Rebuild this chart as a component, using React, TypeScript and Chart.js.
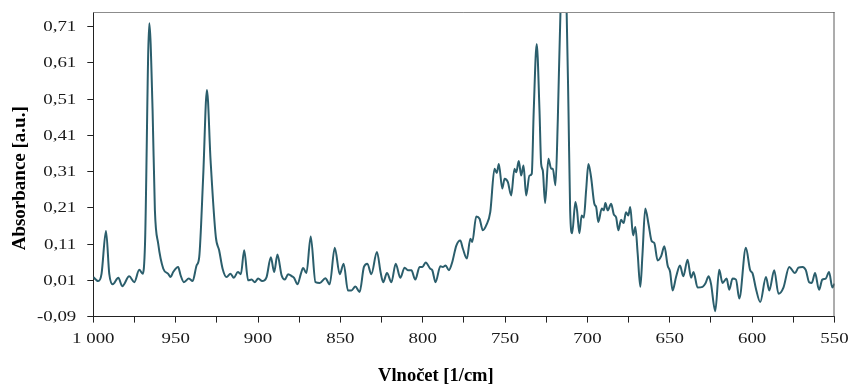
import React, { useEffect, useRef } from 'react';
import { Chart, registerables } from 'chart.js';

Chart.register(...registerables);

// Wavenumber (1/cm) of each sampled point of the spectrum
const WAVENUMBERS = [
  1000.0, 997.0, 995.0, 992.3, 990.3, 988.2, 984.8, 982.4, 978.2, 975.1,
  972.1, 970.0, 968.6, 966.0, 964.0, 962.6, 960.6, 957.5, 954.5, 953.1,
  951.5, 948.5, 947.0, 945.0, 942.0, 939.7, 937.3, 935.7, 933.3, 931.0,
  928.8, 925.6, 923.6, 921.5, 919.1, 916.7, 914.7, 912.2, 910.4, 908.4,
  906.0, 903.9, 901.9, 899.9, 897.5, 894.8, 892.2, 890.2, 888.2, 885.7,
  883.7, 881.7, 879.3, 878.1, 876.0, 874.0, 872.6, 870.6, 868.0, 865.1,
  862.5, 859.1, 856.5, 853.4, 850.4, 848.0, 845.4, 843.3, 840.9, 838.3,
  835.7, 833.6, 831.2, 827.8, 825.5, 824.0, 821.7, 819.0, 816.4, 813.6,
  811.0, 809.0, 806.9, 804.5, 801.9, 800.2, 798.2, 795.4, 794.2, 792.2,
  789.3, 787.8, 786.1, 784.1, 782.1, 779.6, 777.2, 775.6, 773.2, 771.1,
  769.9, 767.5, 765.5, 763.5, 761.4, 759.0, 756.4, 755.0, 753.8, 751.7,
  750.3, 748.3, 746.3, 744.3, 743.2, 741.7, 740.2, 738.8, 737.2, 735.2,
  733.8, 732.6, 730.8, 729.1, 728.1, 727.1, 725.7, 723.7, 722.0, 721.0,
  719.4, 718.0, 716.4, 714.5, 712.6, 711.5, 710.5, 709.3, 707.3, 706.3,
  704.9, 703.5, 702.2, 700.8, 699.4, 697.8, 695.8, 694.7, 693.4, 691.3,
  690.1, 689.1, 687.7, 685.6, 684.0, 682.6, 681.2, 679.6, 678.0, 676.6,
  675.2, 674.0, 672.3, 670.9, 669.5, 667.9, 666.6, 664.9, 662.8, 661.0,
  659.4, 657.4, 655.3, 653.3, 651.3, 649.8, 648.3, 646.2, 643.8, 641.8,
  639.2, 637.1, 635.6, 633.1, 630.1, 628.4, 626.4, 625.0, 622.4, 620.0,
  618.0, 615.5, 613.9, 611.9, 609.8, 607.8, 603.8, 601.2, 599.8, 597.7,
  595.1, 591.6, 589.6, 586.6, 584.0, 581.0, 577.5, 574.0, 571.9, 569.4,
  567.4, 565.4, 563.8, 561.8, 559.4, 557.4, 555.3, 553.3, 551.3, 550.0,
];

// Absorbance (a.u.) at each wavenumber
const ABSORBANCE = [
  0.019, 0.008, 0.028, 0.146, 0.028, -0.001, 0.017, -0.006, 0.021, 0.005,
  0.039, 0.028, 0.111, 0.719, 0.478, 0.203, 0.111, 0.042, 0.028, 0.019,
  0.033, 0.047, 0.024, 0.005, 0.015, 0.008, 0.051, 0.074, 0.295, 0.535,
  0.341, 0.129, 0.093, 0.042, 0.019, 0.028, 0.017, 0.033, 0.027, 0.093,
  0.010, 0.012, 0.005, 0.015, 0.008, 0.019, 0.074, 0.033, 0.081, 0.024,
  0.012, 0.027, 0.021, 0.017, -0.001, 0.028, 0.044, 0.030, 0.131, 0.005,
  0.003, 0.016, -0.001, 0.100, 0.027, 0.056, -0.018, -0.018, -0.007, -0.022,
  0.047, 0.056, 0.027, 0.088, 0.030, 0.005, 0.030, 0.005, 0.056, 0.017,
  0.045, 0.038, 0.038, 0.012, 0.047, 0.047, 0.059, 0.042, 0.038, 0.005,
  0.049, 0.047, 0.051, 0.038, 0.060, 0.106, 0.120, 0.097, 0.070, 0.125,
  0.116, 0.186, 0.180, 0.148, 0.162, 0.198, 0.318, 0.306, 0.331, 0.263,
  0.290, 0.281, 0.244, 0.318, 0.308, 0.339, 0.299, 0.327, 0.244, 0.299,
  0.304, 0.478, 0.662, 0.478, 0.331, 0.313, 0.223, 0.345, 0.318, 0.318,
  0.272, 0.451, 0.745, 0.860, 0.745, 0.478, 0.203, 0.140, 0.226, 0.203,
  0.140, 0.189, 0.183, 0.258, 0.331, 0.295, 0.221, 0.212, 0.171, 0.208,
  0.203, 0.223, 0.203, 0.221, 0.192, 0.184, 0.148, 0.177, 0.168, 0.198,
  0.189, 0.212, 0.134, 0.157, 0.084, -0.008, 0.080, 0.208, 0.162, 0.118,
  0.113, 0.065, 0.076, 0.104, 0.051, 0.033, -0.018, 0.019, 0.051, 0.021,
  0.067, 0.017, 0.033, -0.010, -0.008, 0.001, 0.021, 0.001, -0.075, 0.039,
  0.003, 0.015, -0.016, 0.015, 0.012, -0.040, 0.100, 0.038, 0.030, -0.013,
  -0.050, 0.019, -0.018, 0.038, -0.027, -0.010, 0.047, 0.030, 0.045, 0.047,
  0.038, 0.005, 0.003, 0.030, -0.016, 0.012, 0.015, 0.033, -0.010, 0.001,
];

const X_TICKS = [1000, 975, 950, 925, 900, 875, 850, 825, 800, 775, 750, 725, 700, 675, 650, 625, 600, 575, 550];
const X_LABELED = [1000, 950, 900, 850, 800, 750, 700, 650, 600, 550];
const Y_TICKS = [-0.09, 0.01, 0.11, 0.21, 0.31, 0.41, 0.51, 0.61, 0.71];
const X_MIN = 550;
const X_MAX = 1000;
const Y_MIN = -0.09;
const Y_MAX = 0.75;
const X_TITLE = 'Vlnočet [1/cm]';
const Y_TITLE = 'Absorbance [a.u.]';

const fmtX = (v: number) => String(v).replace(/\B(?=(\d{3})+(?!\d))/g, ' ');
const fmtY = (v: number) => v.toFixed(2).replace('.', ',');

const STRETCH = 1.35;

function drawStretched(ctx: CanvasRenderingContext2D, text: string, x: number, y: number, align: CanvasTextAlign) {
  ctx.save();
  ctx.translate(x, y);
  ctx.scale(STRETCH, 1);
  ctx.textAlign = align;
  ctx.fillText(text, 0, 0);
  ctx.restore();
}

const decorPlugin = {
  id: 'decor',
  afterDraw(chart: any) {
    const { ctx, chartArea } = chart;
    const { left, right, top, bottom } = chartArea;
    const xs = chart.scales.x;
    const ys = chart.scales.y;
    ctx.save();
    // top and right frame
    ctx.lineWidth = 1;
    ctx.strokeStyle = '#8c8c8c';
    ctx.beginPath();
    ctx.moveTo(left, top + 0.5);
    ctx.lineTo(right, top + 0.5);
    ctx.stroke();
    ctx.strokeStyle = '#5a5a5a';
    ctx.beginPath();
    ctx.moveTo(right - 0.5, top);
    ctx.lineTo(right - 0.5, bottom);
    ctx.stroke();

    // tick labels
    ctx.fillStyle = '#1a1a1a';
    ctx.font = '14px "Liberation Serif"';
    ctx.textBaseline = 'middle';
    for (const v of Y_TICKS) {
      drawStretched(ctx, fmtY(v), left - 17, ys.getPixelForValue(v) + 1, 'right');
    }
    for (const v of X_LABELED) {
      drawStretched(ctx, fmtX(v), xs.getPixelForValue(v), bottom + 23, 'center');
    }

    // axis titles
    ctx.fillStyle = '#000';
    ctx.textAlign = 'center';
    ctx.font = 'bold 18.5px "Liberation Serif"';
    ctx.fillText(X_TITLE, (left + right) / 2 - 28, bottom + 59.5);
    ctx.translate(20, (top + bottom) / 2 + 14);
    ctx.rotate(-Math.PI / 2);
    ctx.font = 'bold 19px "Liberation Serif"';
    ctx.fillText(Y_TITLE, 0, 0);
    ctx.restore();
  },
};

export default function App() {
  const ref = useRef<HTMLCanvasElement | null>(null);

  useEffect(() => {
    if (!ref.current) return;
    const chart = new Chart(ref.current, {
      type: 'line',
      data: {
        datasets: [
          {
            data: WAVENUMBERS.map((w, i) => ({ x: w, y: ABSORBANCE[i] })),
            borderColor: '#2b5e6c',
            borderWidth: 2,
            pointRadius: 0,
            fill: false,
            cubicInterpolationMode: 'monotone',
          },
        ],
      },
      options: {
        animation: false,
        responsive: false,
        layout: { padding: { top: 12, right: 14.5, left: 0, bottom: 0 } },
        plugins: {
          legend: { display: false },
          tooltip: { enabled: false },
        },
        scales: {
          x: {
            type: 'linear',
            reverse: true,
            min: X_MIN,
            max: X_MAX,
            afterBuildTicks: (s: any) => {
              s.ticks = X_TICKS.map((v) => ({ value: v }));
            },
            afterFit: (s: any) => {
              s.height = 68.4;
            },
            ticks: { display: false, callback: (v: any) => (X_LABELED.includes(v) ? fmtX(v) : '') },
            grid: { display: true, drawOnChartArea: false, drawTicks: true, tickLength: 6, color: '#222' },
            border: { display: true, color: '#222', width: 1 },
          },
          y: {
            type: 'linear',
            min: Y_MIN,
            max: Y_MAX,
            afterBuildTicks: (s: any) => {
              s.ticks = Y_TICKS.map((v) => ({ value: v }));
            },
            afterFit: (s: any) => {
              s.width = 93.3;
            },
            ticks: { display: false, callback: (v: any) => fmtY(v) },
            grid: { display: true, drawOnChartArea: false, drawTicks: true, tickLength: 6, color: '#222' },
            border: { display: true, color: '#222', width: 1 },
          },
        },
      },
      plugins: [decorPlugin],
    } as any);
    return () => chart.destroy();
  }, []);

  return (
    <div style={{ position: 'absolute', left: 0, top: 0, width: 849, height: 385, background: '#fff' }}>
      <canvas ref={ref} width={849} height={385} style={{ display: 'block' }} />
    </div>
  );
}
